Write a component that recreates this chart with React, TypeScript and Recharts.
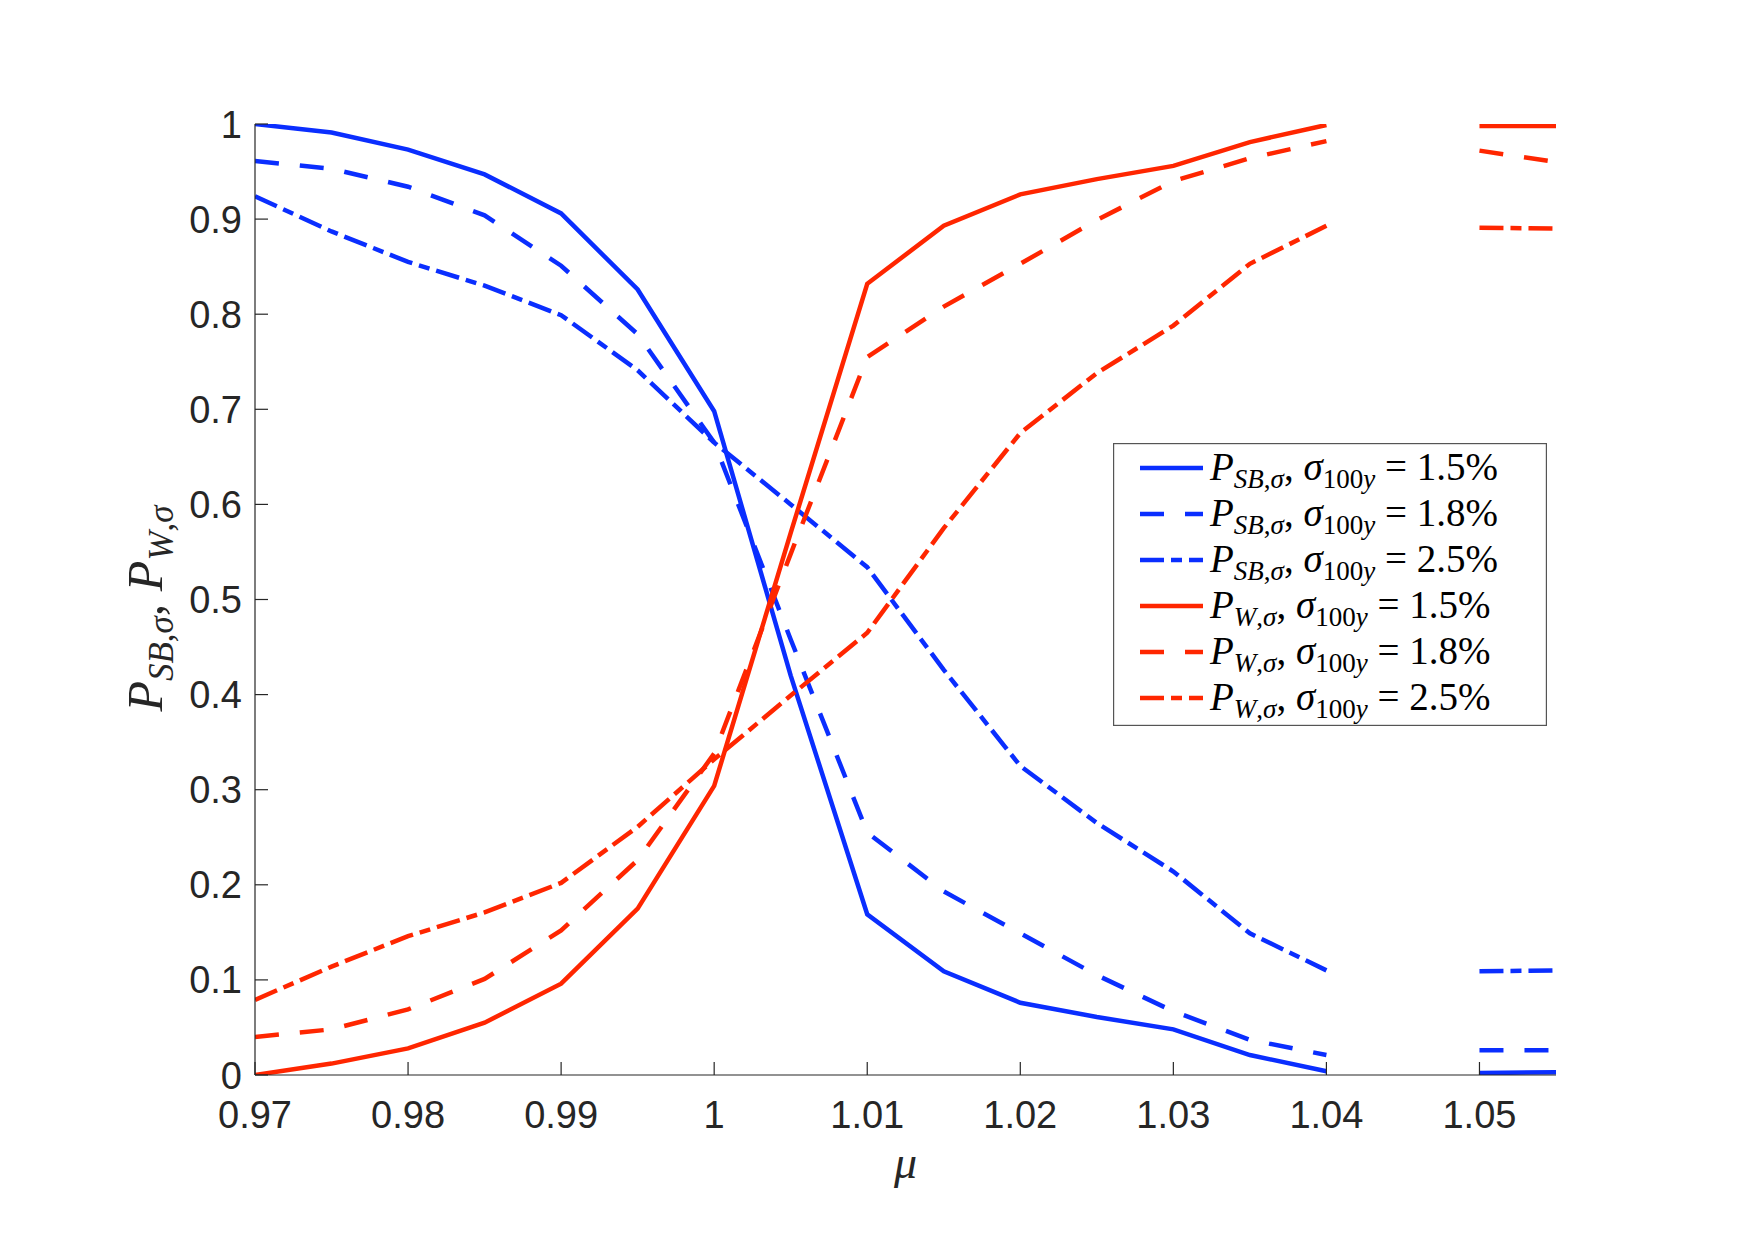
import React from 'react';
import { LineChart, Line, XAxis, YAxis, Legend } from 'recharts';

// ---- data ----
const muValues = [0.97, 0.975, 0.98, 0.985, 0.99, 0.995, 1.0, 1.005, 1.01, 1.015, 1.02, 1.025, 1.03, 1.035, 1.04, 1.045, 1.05, 1.055];

const pSbSigma15 = [1.0, 0.991, 0.973, 0.947, 0.906, 0.826, 0.698, 0.42, 0.169, 0.109, 0.076, 0.061, 0.048, 0.021, 0.004, null, 0.002, 0.003];
const pSbSigma18 = [0.961, 0.953, 0.934, 0.904, 0.851, 0.779, 0.665, 0.458, 0.255, 0.193, 0.149, 0.105, 0.067, 0.037, 0.021, null, 0.026, 0.026];
const pSbSigma25 = [0.924, 0.887, 0.855, 0.83, 0.799, 0.741, 0.665, 0.6, 0.534, 0.426, 0.325, 0.265, 0.214, 0.149, 0.11, null, 0.109, 0.11];
const pWSigma15 = [0.0, 0.012, 0.028, 0.055, 0.096, 0.175, 0.304, 0.57, 0.832, 0.893, 0.926, 0.942, 0.956, 0.981, 0.999, null, 0.998, 0.998];
const pWSigma18 = [0.04, 0.048, 0.069, 0.101, 0.152, 0.226, 0.338, 0.548, 0.755, 0.808, 0.853, 0.899, 0.94, 0.964, 0.982, null, 0.972, 0.96];
const pWSigma25 = [0.079, 0.114, 0.146, 0.171, 0.202, 0.261, 0.332, 0.399, 0.465, 0.575, 0.675, 0.738, 0.788, 0.853, 0.893, null, 0.891, 0.89];

const xTicks = [0.97, 0.98, 0.99, 1.0, 1.01, 1.02, 1.03, 1.04, 1.05];
const xTickLabels = ['0.97', '0.98', '0.99', '1', '1.01', '1.02', '1.03', '1.04', '1.05'];
const yTicks = [0, 0.1, 0.2, 0.3, 0.4, 0.5, 0.6, 0.7, 0.8, 0.9, 1];
const yTickLabels = ['0', '0.1', '0.2', '0.3', '0.4', '0.5', '0.6', '0.7', '0.8', '0.9', '1'];

const legendMain = ['SB', 'SB', 'SB', 'W', 'W', 'W'];
const legendPct = ['1.5%', '1.8%', '2.5%', '1.5%', '1.8%', '2.5%'];

// ---- styles ----
const BLUE = '#0A2EFF';
const RED = '#FF2600';
const AXIS = '#262626';
const SANS = '"Liberation Sans", Arial, Helvetica, sans-serif';
const SERIF = '"Liberation Serif", "Times New Roman", serif';
const DASH = '24 21';
const DASHDOT = '24 7 11 7';
const LW = 4.5;

const series = [
  { key: 'sb15', values: pSbSigma15, color: BLUE, dash: undefined },
  { key: 'sb18', values: pSbSigma18, color: BLUE, dash: DASH },
  { key: 'sb25', values: pSbSigma25, color: BLUE, dash: DASHDOT },
  { key: 'w15', values: pWSigma15, color: RED, dash: undefined },
  { key: 'w18', values: pWSigma18, color: RED, dash: DASH },
  { key: 'w25', values: pWSigma25, color: RED, dash: DASHDOT },
];

const data = muValues.map((mu, i) => {
  const row: Record<string, number | null> = { mu };
  series.forEach((s) => {
    row[s.key] = s.values[i];
  });
  return row;
});

const TICK_LEN = 13;

const BottomTick = (props: any) => {
  const { x, y, index } = props;
  return (
    <g>
      <line x1={x} y1={y} x2={x} y2={y - TICK_LEN} stroke={AXIS} strokeWidth={1.2} />
      <text x={x} y={y + 53} textAnchor="middle" fontFamily={SANS} fontSize={38} fill={AXIS}>
        {xTickLabels[index]}
      </text>
    </g>
  );
};

const LeftTick = (props: any) => {
  const { x, y, index } = props;
  return (
    <g>
      <line x1={x} y1={y} x2={x + TICK_LEN} y2={y} stroke={AXIS} strokeWidth={1.2} />
      <text x={x - 13} y={y + 13.5} textAnchor="end" fontFamily={SANS} fontSize={38} fill={AXIS}>
        {yTickLabels[index]}
      </text>
    </g>
  );
};

const TopTick = (props: any) => {
  const { x, y } = props;
  return <line x1={x} y1={y} x2={x} y2={y + TICK_LEN} stroke={AXIS} strokeWidth={1.2} />;
};

const RightTick = (props: any) => {
  const { x, y } = props;
  return <line x1={x} y1={y} x2={x - TICK_LEN} y2={y} stroke={AXIS} strokeWidth={1.2} />;
};

const YLabel = (props: any) => {
  const vb = props.viewBox || { x: 0, y: 0, width: 0, height: 0 };
  const cx = vb.x + 162;
  const cy = vb.y + vb.height / 2 + 9;
  return (
    <text
      x={cx}
      y={cy}
      transform={`rotate(-90, ${cx}, ${cy})`}
      textAnchor="middle"
      fontFamily={SERIF}
      fontSize={50}
      fill="#262626"
    >
      <tspan fontStyle="italic">P</tspan>
      <tspan fontSize={35} dy={11} fontStyle="italic">SB</tspan>
      <tspan fontSize={35}>,</tspan>
      <tspan fontSize={35} fontStyle="italic">σ</tspan>
      <tspan dy={-11}>{', '}</tspan>
      <tspan fontStyle="italic">P</tspan>
      <tspan fontSize={35} dy={11} fontStyle="italic">W</tspan>
      <tspan fontSize={35}>,</tspan>
      <tspan fontSize={35} fontStyle="italic">σ</tspan>
    </text>
  );
};

const XLabel = (props: any) => {
  const vb = props.viewBox || { x: 0, y: 0, width: 0, height: 0 };
  return (
    <text
      x={vb.x + vb.width / 2}
      y={vb.y + 103}
      textAnchor="middle"
      fontFamily={SERIF}
      fontStyle="italic"
      fontSize={46}
      fill="#262626"
    >
      μ
    </text>
  );
};

const LEG_W = 434;
const LEG_H = 283;

const LegendBox = () => (
  <svg width={LEG_W} height={LEG_H} style={{ display: 'block' }}>
    <rect x={0.6} y={0.6} width={LEG_W - 1.2} height={LEG_H - 1.2} fill="#fff" stroke="#555" strokeWidth={1.2} />
    {series.map((s, i) => {
      const cy = 25 + i * 46;
      return (
        <g key={s.key}>
          <line x1={27} y1={cy} x2={90} y2={cy} stroke={s.color} strokeWidth={LW} strokeDasharray={s.dash} />
          <text x={97} y={cy + 12} fontFamily={SERIF} fontSize={39} fill="#000">
            <tspan fontStyle="italic">P</tspan>
            <tspan fontSize={27} dy={8} fontStyle="italic">{legendMain[i]}</tspan>
            <tspan fontSize={27}>,</tspan>
            <tspan fontSize={27} fontStyle="italic">σ</tspan>
            <tspan dy={-8}>{', '}</tspan>
            <tspan fontStyle="italic">σ</tspan>
            <tspan fontSize={27} dy={8}>100</tspan>
            <tspan fontSize={27} fontStyle="italic">y</tspan>
            <tspan dy={-8}>{' = '}</tspan>
            <tspan>{legendPct[i]}</tspan>
          </text>
        </g>
      );
    })}
  </svg>
);

export default function App() {
  return (
    <div style={{ position: 'absolute', left: 0, top: 0, background: '#fff' }}>
      <LineChart width={1755} height={1240} data={data} margin={{ top: 124, right: 199, bottom: 0, left: 0 }}>
        <XAxis
          dataKey="mu"
          type="number"
          domain={[0.97, 1.055]}
          allowDataOverflow
          ticks={xTicks}
          interval={0}
          height={165}
          tickSize={0}
          tickMargin={0}
          tickLine={false}
          axisLine={{ stroke: AXIS, strokeWidth: 1.2 }}
          tick={<BottomTick />}
          label={<XLabel />}
        />
        <XAxis
          xAxisId="top"
          orientation="top"
          dataKey="mu"
          type="number"
          domain={[0.97, 1.055]}
          allowDataOverflow
          ticks={xTicks}
          interval={0}
          height={0}
          tickSize={0}
          tickMargin={0}
          tickLine={false}
          axisLine={{ stroke: AXIS, strokeWidth: 1.2 }}
          tick={<TopTick />}
        />
        <YAxis
          type="number"
          domain={[0, 1]}
          allowDataOverflow
          ticks={yTicks}
          interval={0}
          width={255}
          tickSize={0}
          tickMargin={0}
          tickLine={false}
          axisLine={{ stroke: AXIS, strokeWidth: 1.2 }}
          tick={<LeftTick />}
          label={<YLabel />}
        />
        <YAxis
          yAxisId="right"
          orientation="right"
          type="number"
          domain={[0, 1]}
          allowDataOverflow
          ticks={yTicks}
          interval={0}
          width={0}
          tickSize={0}
          tickMargin={0}
          tickLine={false}
          axisLine={{ stroke: AXIS, strokeWidth: 1.2 }}
          tick={<RightTick />}
        />
        {series.map((s) => (
          <Line
            key={s.key}
            type="linear"
            dataKey={s.key}
            stroke={s.color}
            strokeWidth={LW}
            strokeDasharray={s.dash}
            dot={false}
            activeDot={false}
            connectNulls={false}
            isAnimationActive={false}
          />
        ))}
        <Legend
          layout="horizontal"
          align="center"
          verticalAlign="middle"
          wrapperStyle={{ left: 1113, top: 443, width: LEG_W, height: LEG_H }}
          content={() => <LegendBox />}
        />
      </LineChart>
    </div>
  );
}
